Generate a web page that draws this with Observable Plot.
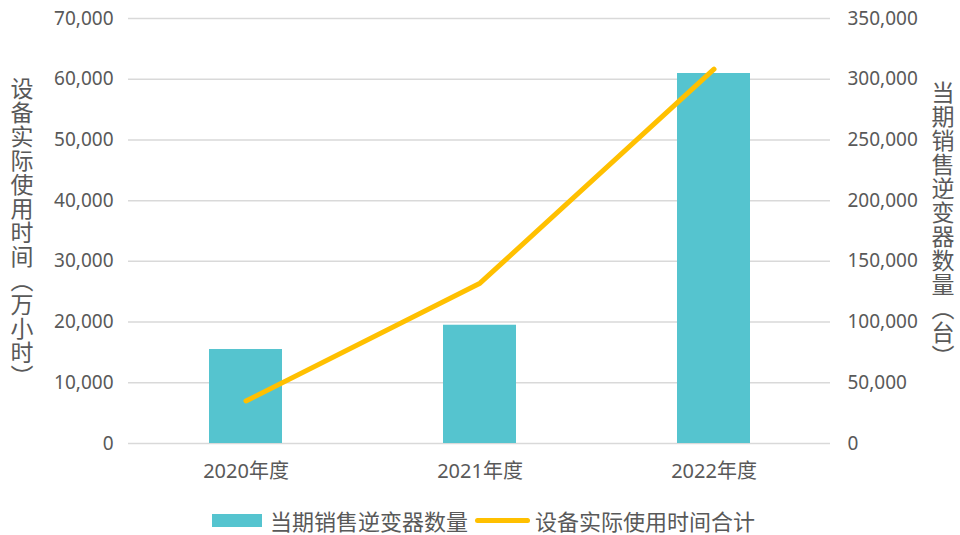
<!DOCTYPE html>
<html>
<head>
<meta charset="utf-8">
<script src="https://cdn.jsdelivr.net/npm/d3@7"></script>
<script src="https://cdn.jsdelivr.net/npm/@observablehq/plot@0.6"></script>
<style>
  html, body { margin: 0; padding: 0; background: #fff; }
  #wrap { position: relative; width: 960px; height: 535px; font-family: "Noto Sans", "Noto Sans CJK SC", sans-serif; color: #595959; }
  .vtitle { position: absolute; writing-mode: vertical-rl; text-orientation: upright; font-family: "Noto Sans CJK SC", sans-serif; font-size: 23px; letter-spacing: 1px; color: #595959; line-height: 1; }
  #legend { position: absolute; left: 212px; top: 508px; height: 24px; display: flex; align-items: center; font-family: "Noto Sans CJK SC", sans-serif; font-size: 22px; line-height: 24px; color: #595959; white-space: nowrap; }
  .sw-bar { width: 50px; height: 13px; margin-right: 8px; }
  .sw-line { width: 55px; height: 5px; border-radius: 2.5px; margin-left: 7px; margin-right: 5px; }
</style>
</head>
<body>
<div id="wrap"></div>
<script>
// ---- data ----
const categories = ["2020年度", "2021年度", "2022年度"];
const inverterSales = [77400, 97400, 304700];   // 当期销售逆变器数量（台） - right axis
const usageHours = [7000, 26400, 61650];        // 设备实际使用时间合计（万小时） - left axis
const leftTicks = [0, 10000, 20000, 30000, 40000, 50000, 60000, 70000];
const rightTicks = [0, 50000, 100000, 150000, 200000, 250000, 300000, 350000];
const seriesBar = "当期销售逆变器数量";
const seriesLine = "设备实际使用时间合计";
const leftTitle = "设备实际使用时间（万小时）";
const rightTitle = "当期销售逆变器数量（台）";

const barColor = "#55c4cf";
const lineColor = "#ffc000";
const ratio = rightTicks[rightTicks.length - 1] / leftTicks[leftTicks.length - 1];

const data = categories.map((c, i) => ({cat: c, sales: inverterSales[i], hours: usageHours[i]}));
const fmt = d3.format(",");
const ff = '"Noto Sans", "Noto Sans CJK SC", sans-serif';

const chart = Plot.plot({
  width: 960,
  height: 500,
  marginLeft: 128,
  marginRight: 130,
  marginTop: 18,
  marginBottom: 57,
  style: {fontFamily: ff, fontSize: "19px", color: "#595959", background: "white", overflow: "visible"},
  x: {domain: categories, paddingInner: 0.69, paddingOuter: 0.345, label: null},
  y: {domain: [0, leftTicks[leftTicks.length - 1]], label: null},
  marks: [
    Plot.gridY(leftTicks, {stroke: "#d9d9d9", strokeOpacity: 1, strokeWidth: 1.5}),
    Plot.barY(data, {x: "cat", y: d => d.sales / ratio, fill: barColor}),
    Plot.line(data, {x: "cat", y: "hours", stroke: lineColor, strokeWidth: 5, strokeLinecap: "round", strokeLinejoin: "round"}),
    Plot.axisY(leftTicks, {anchor: "left", tickSize: 0, tickPadding: 15, tickFormat: fmt, label: null, fill: "#595959"}),
    Plot.axisY(rightTicks.map(v => v / ratio), {anchor: "right", tickSize: 0, tickPadding: 17, tickFormat: d => fmt(Math.round(d * ratio)), label: null, fill: "#595959"}),
    Plot.axisX({tickSize: 0, tickPadding: 20, label: null, fill: "#595959", fontSize: 20, fontFamily: ff})
  ]
});

const wrap = document.getElementById("wrap");
wrap.appendChild(chart);

const lt = document.createElement("div");
lt.className = "vtitle";
lt.style.left = "10px";
lt.style.top = "77px";
lt.textContent = leftTitle;
wrap.appendChild(lt);

const rt = document.createElement("div");
rt.className = "vtitle";
rt.style.left = "931px";
rt.style.top = "81px";
rt.textContent = rightTitle;
wrap.appendChild(rt);

const lg = document.createElement("div");
lg.id = "legend";
lg.innerHTML = `<div class="sw-bar" style="background:${barColor}"></div><span>${seriesBar}</span><div class="sw-line" style="background:${lineColor}"></div><span>${seriesLine}</span>`;
wrap.appendChild(lg);
</script>
</body>
</html>
